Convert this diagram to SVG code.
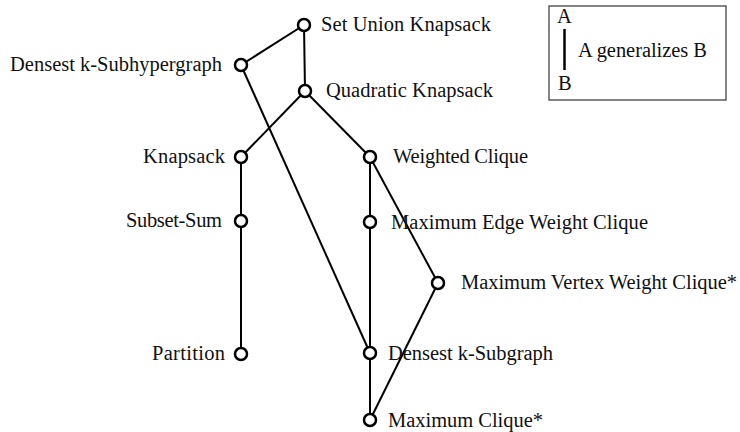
<svg xmlns="http://www.w3.org/2000/svg" width="740" height="432" viewBox="0 0 740 432">
<style>
text{font-family:'Liberation Serif','Times New Roman','DejaVu Serif',serif;font-size:20.5px;fill:#111}
.e line{stroke:#000;stroke-width:2}
.n circle{fill:#fff;stroke:#000;stroke-width:2.5}
</style>
<rect width="740" height="432" fill="#fff"/>
<g id="legend">
<rect x="549" y="6" width="177" height="94" fill="#fff" stroke="#333" stroke-width="1.2"/>
<text x="557" y="23">A</text>
<line x1="564.5" y1="29" x2="564.5" y2="70" stroke="#000" stroke-width="2.5"/>
<text x="578" y="57" textLength="129">A generalizes B</text>
<text x="558" y="90">B</text>
</g>
<g class="e" id="connectors">
<line x1="304" y1="25" x2="241" y2="65"/>
<line x1="304" y1="25" x2="305" y2="91"/>
<line x1="305" y1="91" x2="241" y2="157"/>
<line x1="305" y1="91" x2="370" y2="157"/>
<line x1="241" y1="65" x2="370" y2="353"/>
<line x1="241" y1="157" x2="241" y2="221"/>
<line x1="241" y1="221" x2="241" y2="354"/>
<line x1="370" y1="157" x2="370" y2="222"/>
<line x1="370" y1="222" x2="370" y2="353"/>
<line x1="370" y1="353" x2="370" y2="420"/>
<line x1="370" y1="157" x2="438" y2="283"/>
<line x1="438" y1="283" x2="370" y2="420"/>
</g>
<g class="n" id="set-union-knapsack"><circle cx="304" cy="25" r="6"/><text x="321" y="31" textLength="170">Set Union Knapsack</text></g>
<g class="n" id="densest-k-subhypergraph"><circle cx="241" cy="65" r="6"/><text x="10" y="71" textLength="212">Densest k-Subhypergraph</text></g>
<g class="n" id="quadratic-knapsack"><circle cx="305" cy="91" r="6"/><text x="326" y="97" textLength="167">Quadratic Knapsack</text></g>
<g class="n" id="knapsack"><circle cx="241" cy="157" r="6"/><text x="143" y="163" textLength="82">Knapsack</text></g>
<g class="n" id="weighted-clique"><circle cx="370" cy="157" r="6"/><text x="393" y="163" textLength="135">Weighted Clique</text></g>
<g class="n" id="subset-sum"><circle cx="241" cy="221" r="6"/><text x="126" y="227" textLength="96">Subset-Sum</text></g>
<g class="n" id="max-edge-weight-clique"><circle cx="370" cy="222" r="6"/><text x="391" y="229" textLength="257">Maximum Edge Weight Clique</text></g>
<g class="n" id="max-vertex-weight-clique"><circle cx="438" cy="283" r="6"/><text x="461" y="289" textLength="276">Maximum Vertex Weight Clique*</text></g>
<g class="n" id="partition"><circle cx="241" cy="354" r="6"/><text x="152" y="360" textLength="73">Partition</text></g>
<g class="n" id="densest-k-subgraph"><circle cx="370" cy="353" r="6"/><text x="388" y="360" textLength="165">Densest k-Subgraph</text></g>
<g class="n" id="maximum-clique"><circle cx="370" cy="420" r="6"/><text x="388" y="427" textLength="155">Maximum Clique*</text></g>
</svg>
